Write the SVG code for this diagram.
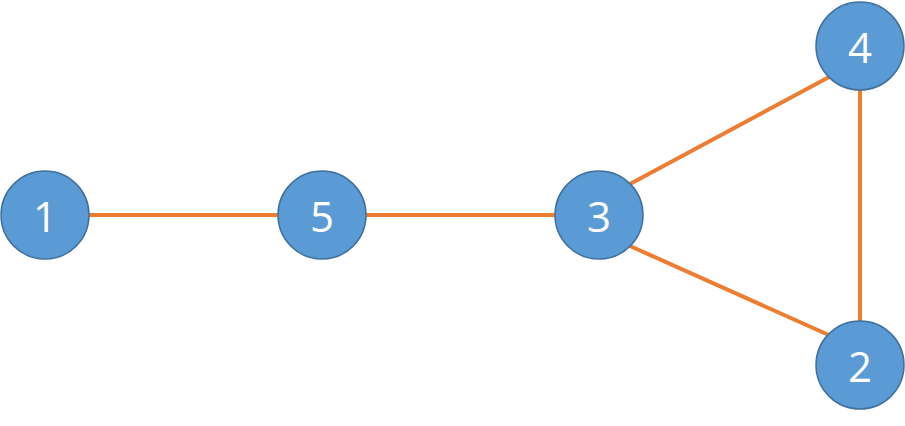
<svg xmlns="http://www.w3.org/2000/svg" width="905" height="426" viewBox="0 0 905 426">
<style>
.n circle{fill:#5B9BD5;stroke:#41719C;stroke-width:1.5}
.n text{fill:#fff;font-family:"Open Sans","Liberation Sans",sans-serif;font-size:42px;text-anchor:middle;dominant-baseline:central}
.e line{stroke:#ED7D31;stroke-width:4}
</style>
<g class="e" id="edges">
<line x1="89" y1="215" x2="278" y2="215"/>
<line x1="366" y1="215" x2="555" y2="215"/>
<line x1="630" y1="184" x2="831" y2="76"/>
<line x1="630" y1="246" x2="831" y2="336"/>
<line x1="860" y1="90" x2="860" y2="321"/>
</g>
<g class="n" id="node1"><circle cx="45" cy="215" r="44"/><text x="45" y="215">1</text></g>
<g class="n" id="node5"><circle cx="322" cy="215" r="44"/><text x="322" y="215">5</text></g>
<g class="n" id="node3"><circle cx="599" cy="215" r="44"/><text x="599" y="215">3</text></g>
<g class="n" id="node4"><circle cx="860" cy="46" r="44"/><text x="860" y="46">4</text></g>
<g class="n" id="node2"><circle cx="860" cy="365" r="44"/><text x="860" y="365">2</text></g>
</svg>
